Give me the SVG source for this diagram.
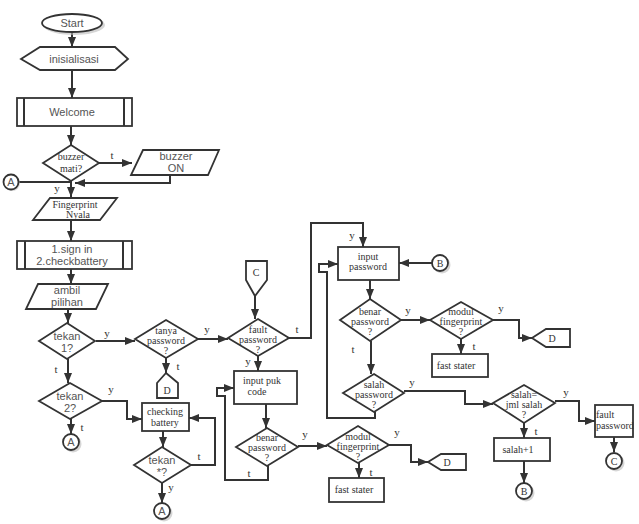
<svg xmlns="http://www.w3.org/2000/svg" width="639" height="524" viewBox="0 0 639 524">
<style>
.ln{fill:none;stroke:#333;stroke-width:2}
.a{marker-end:url(#ah)}
.sh{fill:#fff;stroke:#333;stroke-width:1.8}
.sd{fill:#bbb;opacity:.6}
.sans{font-family:"Liberation Sans",Arial,sans-serif;font-size:11px;fill:#555;text-anchor:middle}
.ser{font-family:"Liberation Serif","Times New Roman",serif;font-size:10px;fill:#333;text-anchor:middle}
.lbl{font-family:"Liberation Serif","Times New Roman",serif;font-size:11px;fill:#333;text-anchor:middle}
</style>
<defs>
<marker id="ah" viewBox="0 0 10 8" refX="10" refY="4" markerWidth="10" markerHeight="8" markerUnits="userSpaceOnUse" orient="auto">
<path d="M0,0 L10,4 L0,8 z" fill="#333"/>
</marker>
</defs>
<rect width="639" height="524" fill="#fff"/>

<g id="connectors">
<path class="ln a" d="M72 32 L72 47"/>
<path class="ln a" d="M72 70 L72 98"/>
<path class="ln a" d="M71 126 L71 145"/>
<path class="ln a" d="M99 163 L132 163"/>
<path class="ln a" d="M170 175 L170 183 L75 183"/>
<path class="ln" d="M19 182 L70 182"/>
<path class="ln a" d="M71 181 L71 197"/>
<path class="ln a" d="M71 220 L71 241"/>
<path class="ln a" d="M71 269 L71 284"/>
<path class="ln a" d="M68 309 L68 323"/>
<path class="ln a" d="M96 341 L135 341"/>
<path class="ln a" d="M166 358 L166 373"/>
<path class="ln a" d="M198 339 L228 339"/>
<path class="ln a" d="M255 296 L255 319"/>
<path class="ln a" d="M289 338 L311 338 L311 223 L363 223 L363 247"/>
<path class="ln a" d="M432 263 L399 263"/>
<path class="ln a" d="M375 412 L375 418 L327 418 L327 272 L319 272 L319 264 L338 264"/>
<path class="ln a" d="M370 280 L370 299"/>
<path class="ln a" d="M401 320 L430 320"/>
<path class="ln a" d="M461 339 L461 354"/>
<path class="ln a" d="M493 320 L519 320 L519 338 L532 338"/>
<path class="ln a" d="M371 341 L371 374"/>
<path class="ln a" d="M404 391 L465 391 L465 404 L493 404"/>
<path class="ln a" d="M555 401 L579 401 L579 421 L595 421"/>
<path class="ln a" d="M614 437 L614 452"/>
<path class="ln a" d="M524 423 L524 438"/>
<path class="ln a" d="M524 461 L524 483"/>
<path class="ln a" d="M258 356 L258 371"/>
<path class="ln a" d="M266 404 L266 428"/>
<path class="ln a" d="M268 466 L268 480 L225 480 L225 396 L217 396 L217 388 L234 388"/>
<path class="ln a" d="M298 446 L327 446"/>
<path class="ln a" d="M359 463 L359 478"/>
<path class="ln a" d="M389 445 L411 445 L411 462 L428 462"/>
<path class="ln a" d="M68 359 L68 383"/>
<path class="ln a" d="M102 401 L127 401 L127 419 L142 419"/>
<path class="ln a" d="M71 419 L71 434"/>
<path class="ln a" d="M163 431 L163 447"/>
<path class="ln a" d="M191 465 L215 465 L215 418 L189 418"/>
<path class="ln a" d="M162 483 L162 503"/>
<g class="lbl">
<text x="112" y="159">t</text>
<text x="57" y="192">y</text>
<text x="107" y="337">y</text>
<text x="178" y="370">t</text>
<text x="207" y="333">y</text>
<text x="297" y="333">t</text>
<text x="352" y="239">y</text>
<text x="408" y="314">y</text>
<text x="474" y="350">t</text>
<text x="501" y="312">y</text>
<text x="353" y="353">t</text>
<text x="412" y="386">y</text>
<text x="566" y="396">y</text>
<text x="536" y="435">t</text>
<text x="248" y="365">y</text>
<text x="249" y="477">t</text>
<text x="305" y="438">y</text>
<text x="371" y="476">t</text>
<text x="397" y="436">y</text>
<text x="56" y="373">t</text>
<text x="111" y="393">y</text>
<text x="82" y="431">t</text>
<text x="199" y="460">t</text>
<text x="171" y="491">y</text>
</g>
</g>

<g id="start">
<ellipse class="sd" cx="74" cy="25" rx="31" ry="10"/>
<ellipse class="sh" cx="72" cy="23" rx="30" ry="9" stroke-width="1.5"/>
<text class="sans" x="72" y="27">Start</text>
</g>
<g id="inisialisasi">
<polygon class="sh" points="21,59 40,47 115,47 128,59 115,70 40,70"/>
<text class="sans" x="74" y="63">inisialisasi</text>
</g>
<g id="welcome">
<rect class="sh" x="17" y="98" width="115" height="28"/>
<line class="ln" x1="24" y1="98" x2="24" y2="126" stroke-width="1.5"/>
<line class="ln" x1="124" y1="98" x2="124" y2="126" stroke-width="1.5"/>
<text class="sans" x="72" y="116">Welcome</text>
</g>
<g id="buzzer-mati">
<polygon class="sh" points="71,145 99,163 71,181 43,163"/>
<text class="ser" x="71" y="160">buzzer</text>
<text class="ser" x="71" y="172">mati?</text>
</g>
<g id="buzzer-on">
<polygon class="sh" points="143,150 219,150 208,175 131,175"/>
<text class="sans" x="176" y="160">buzzer</text>
<text class="sans" x="176" y="172">ON</text>
</g>
<g id="conn-a1">
<circle class="sd" cx="12" cy="183" r="8"/>
<circle class="sh" cx="11" cy="182" r="7.5" stroke-width="1.5"/>
<text class="sans" x="11" y="186">A</text>
</g>
<g id="fingerprint-nyala">
<polygon class="sh" points="50,198 117,198 100,220 33,220"/>
<text class="ser" x="75" y="208">Fingerprint</text>
<text class="ser" x="78" y="218">Nyala</text>
</g>
<g id="menu">
<rect class="sh" x="17" y="241" width="115" height="28"/>
<line class="ln" x1="25" y1="241" x2="25" y2="269" stroke-width="1.5"/>
<line class="ln" x1="123" y1="241" x2="123" y2="269" stroke-width="1.5"/>
<text class="sans" x="72" y="253">1.sign in</text>
<text class="sans" x="72" y="265">2.checkbattery</text>
</g>
<g id="ambil-pilihan">
<polygon class="sh" points="38,284 108,284 96,309 26,309"/>
<text class="sans" x="67" y="294">ambil</text>
<text class="sans" x="67" y="306">pilihan</text>
</g>
<g id="tekan1">
<polygon class="sh" points="67,323 95,341 67,359 39,341"/>
<text class="sans" x="67" y="340">tekan</text>
<text class="sans" x="67" y="352">1?</text>
</g>
<g id="tanya-password">
<polygon class="sh" points="166,320 198,339 166,358 135,339"/>
<text class="ser" x="166" y="334">tanya</text>
<text class="ser" x="166" y="344">password</text>
<text class="ser" x="166" y="354">?</text>
</g>
<g id="conn-d1">
<polygon class="sh" points="166,373 178,383 178,398 157,398 157,383"/>
<text class="ser" x="167" y="394">D</text>
</g>
<g id="tekan2">
<polygon class="sh" points="70,383 102,401 70,419 39,401"/>
<text class="sans" x="70" y="400">tekan</text>
<text class="sans" x="70" y="412">2?</text>
</g>
<g id="conn-a2">
<circle class="sd" cx="73" cy="444" r="8.5"/>
<circle class="sh" cx="71" cy="442" r="8" stroke-width="1.5"/>
<text class="sans" x="71" y="446">A</text>
</g>
<g id="checking-battery">
<rect class="sh" x="142" y="403" width="47" height="28"/>
<text class="ser" x="165" y="415">checking</text>
<text class="ser" x="165" y="426">battery</text>
</g>
<g id="tekan-star">
<polygon class="sh" points="162,447 191,465 162,483 134,465"/>
<text class="sans" x="162" y="464">tekan</text>
<text class="sans" x="162" y="476">*?</text>
</g>
<g id="conn-a3">
<circle class="sd" cx="164" cy="513" r="8.5"/>
<circle class="sh" cx="162" cy="511" r="8" stroke-width="1.5"/>
<text class="sans" x="162" y="515">A</text>
</g>
<g id="conn-c1">
<polygon class="sh" points="246,261 267,261 267,280 255,296 246,280"/>
<text class="ser" x="256" y="276">C</text>
</g>
<g id="fault-password-q">
<polygon class="sh" points="258,319 289,338 258,356 228,338"/>
<text class="ser" x="258" y="333">fault</text>
<text class="ser" x="258" y="343">password</text>
<text class="ser" x="258" y="353">?</text>
</g>
<g id="input-puk">
<rect class="sh" x="234" y="371" width="63" height="33"/>
<text class="ser" x="262" y="384">input puk</text>
<text class="ser" x="257" y="395">code</text>
</g>
<g id="benar-password-2">
<polygon class="sh" points="267,428 298,447 267,466 236,447"/>
<text class="ser" x="267" y="441">benar</text>
<text class="ser" x="267" y="451">password</text>
<text class="ser" x="267" y="461">?</text>
</g>
<g id="modul-fingerprint-2">
<polygon class="sh" points="358,426 389,445 358,463 327,445"/>
<text class="ser" x="358" y="440">modul</text>
<text class="ser" x="358" y="450">fingerprint</text>
<text class="ser" x="358" y="460">?</text>
</g>
<g id="fast-stater-2">
<rect class="sh" x="329" y="478" width="55" height="24"/>
<text class="ser" x="354" y="493">fast stater</text>
</g>
<g id="conn-d2">
<polygon class="sh" points="428,462 441,454 466,454 466,470 441,470"/>
<text class="ser" x="447" y="466">D</text>
</g>
<g id="input-password">
<rect class="sh" x="338" y="247" width="61" height="33"/>
<text class="ser" x="368" y="260">input</text>
<text class="ser" x="368" y="270">password</text>
</g>
<g id="conn-b1">
<circle class="sd" cx="442" cy="265" r="8.5"/>
<circle class="sh" cx="440" cy="263" r="8" stroke-width="1.5"/>
<text class="ser" x="440" y="267">B</text>
</g>
<g id="benar-password-1">
<polygon class="sh" points="370,299 401,320 370,341 340,320"/>
<text class="ser" x="370" y="315">benar</text>
<text class="ser" x="370" y="325">password</text>
<text class="ser" x="370" y="335">?</text>
</g>
<g id="modul-fingerprint-1">
<polygon class="sh" points="461,302 493,320 461,339 430,320"/>
<text class="ser" x="461" y="315">modul</text>
<text class="ser" x="461" y="325">fingerprint</text>
<text class="ser" x="461" y="335">?</text>
</g>
<g id="fast-stater-1">
<rect class="sh" x="432" y="354" width="56" height="23"/>
<text class="ser" x="456" y="369">fast stater</text>
</g>
<g id="conn-d3">
<polygon class="sh" points="532,338 546,329 570,329 570,347 546,347"/>
<text class="ser" x="552" y="342">D</text>
</g>
<g id="salah-password">
<polygon class="sh" points="374,374 404,393 374,412 343,393"/>
<text class="ser" x="374" y="388">salah</text>
<text class="ser" x="374" y="398">password</text>
<text class="ser" x="374" y="408">?</text>
</g>
<g id="salah-jml">
<polygon class="sh" points="524,385 555,403 524,423 493,403"/>
<text class="ser" x="524" y="398">salah=</text>
<text class="ser" x="524" y="408">jml salah</text>
<text class="ser" x="524" y="418">?</text>
</g>
<g id="salah-plus">
<rect class="sh" x="494" y="438" width="56" height="23"/>
<text class="ser" x="518" y="453">salah+1</text>
</g>
<g id="conn-b2">
<circle class="sd" cx="526" cy="493" r="8.5"/>
<circle class="sh" cx="524" cy="491" r="8" stroke-width="1.5"/>
<text class="ser" x="524" y="495">B</text>
</g>
<g id="fault-password-box">
<rect class="sh" x="595" y="405" width="38" height="32"/>
<text class="ser" x="596" y="418" style="text-anchor:start">fault</text>
<text class="ser" x="596" y="429" style="text-anchor:start">password</text>
</g>
<g id="conn-c2">
<circle class="sd" cx="616" cy="463" r="8.5"/>
<circle class="sh" cx="614" cy="461" r="8" stroke-width="1.5"/>
<text class="ser" x="614" y="465">C</text>
</g>
</svg>
